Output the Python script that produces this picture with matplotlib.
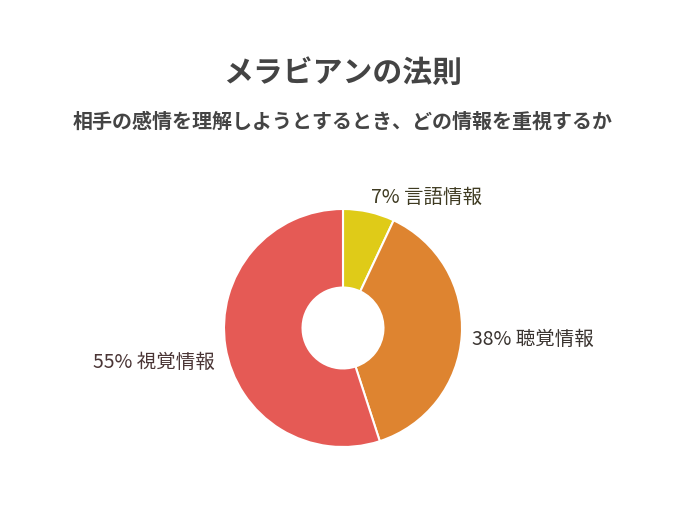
import matplotlib
matplotlib.use("Agg")
import matplotlib.pyplot as plt
import numpy as np

plt.rcParams['font.family'] = ['Noto Sans CJK JP', 'DejaVu Sans']

# データ
labels = ["言語情報", "聴覚情報", "視覚情報"]
values = [7, 38, 55]
colors = ["#dfcb18", "#de8430", "#e55a55"]
label_colors = ["#3f3b22", "#3a3430", "#4a3535"]

fig = plt.figure(figsize=(6.86, 5.08), dpi=100)
fig.patch.set_facecolor("white")

fig.text(0.5, 0.856, "メラビアンの法則", ha="center", va="center",
         fontsize=21.5, fontweight="bold", color="#444444")
fig.text(0.5, 0.762, "相手の感情を理解しようとするとき、どの情報を重視するか",
         ha="center", va="center", fontsize=14.4, fontweight="bold", color="#444444")

# 円の中心 (343, 328), 半径 119px
r_px = 119
cx, cy = 343 / 686, 1 - 328 / 508
w = 2 * r_px / 686
h = 2 * r_px / 508
ax = fig.add_axes([cx - w / 2, cy - h / 2, w, h])

wedges, _ = ax.pie(values, colors=colors, startangle=90, counterclock=False,
                   radius=1.0,
                   wedgeprops=dict(width=0.66, edgecolor="white", linewidth=1.5))
ax.set_xlim(-1, 1)
ax.set_ylim(-1, 1)
ax.set_aspect("equal")

# ラベル（下半分のラベルは少し下げる）
for wdg, lab, v, lc in zip(wedges, labels, values, label_colors):
    ang = np.deg2rad((wdg.theta1 + wdg.theta2) / 2)
    x = 1.09 * np.cos(ang)
    y = 1.12 * np.sin(ang)
    ha = "left" if x > 0 else "right"
    if y < 0:
        y -= 0.025
    if x < 0:
        y -= 0.09
    ax.text(x, y, f"{v}% {lab}", ha=ha, va="center", fontsize=14,
            color=lc, clip_on=False)

fig.savefig("out.png", dpi=100, facecolor="white")
